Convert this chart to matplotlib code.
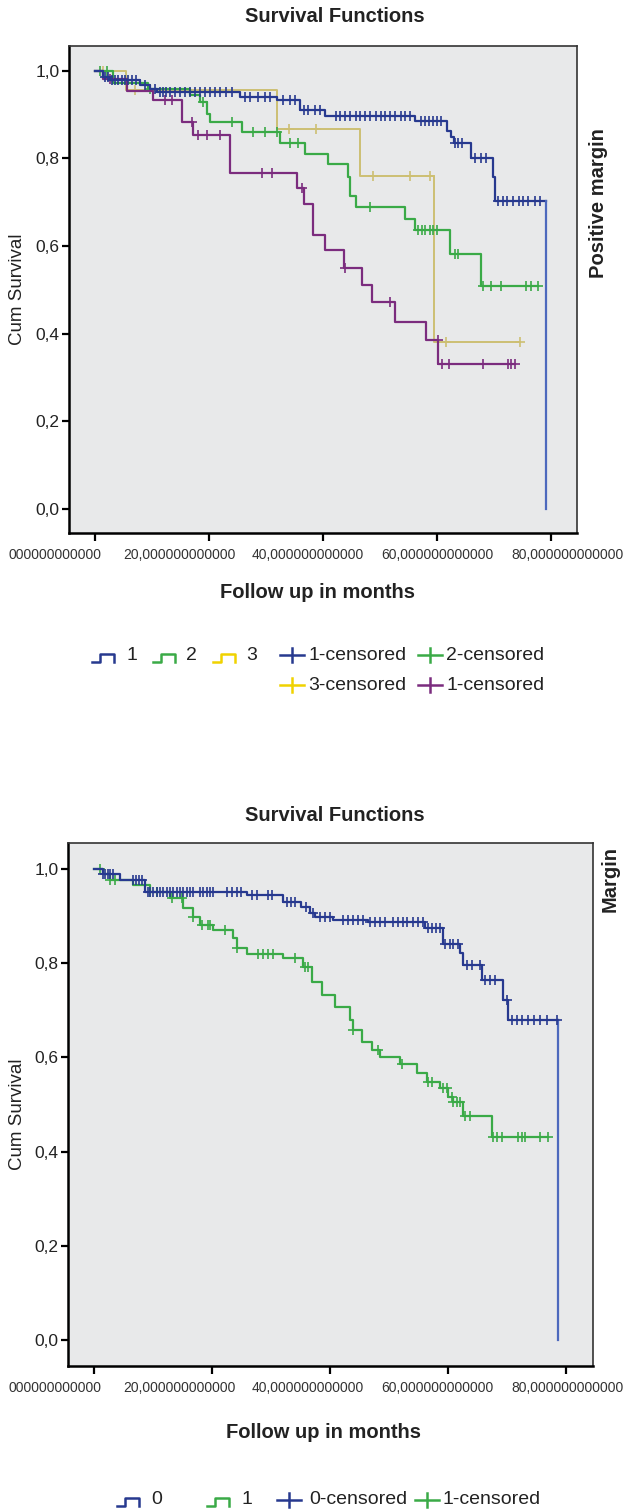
import numpy as np
import matplotlib
matplotlib.use('Agg')
import matplotlib.pyplot as plt
from matplotlib.lines import Line2D
from matplotlib.transforms import blended_transform_factory

plt.rcParams['font.family'] = ['Liberation Sans', 'DejaVu Sans']

# ---------- dados: painel 1 (Positive margin) ----------
p1_blue_t = [0, 1.5, 2.6, 7.9, 9.7, 11.0, 25.5, 32.0, 36.0, 40.4, 56.2, 61.8, 62.5, 63.0, 65.9, 69.7, 70.2, 79.0]
p1_blue_s = [1.0, 0.985, 0.978, 0.967, 0.958, 0.952, 0.94, 0.933, 0.911, 0.896, 0.886, 0.862, 0.848, 0.835, 0.80, 0.758, 0.703, 0.0]
p1_blue_c = [1.8, 2.3, 3.0, 3.6, 4.1, 4.8, 5.3, 5.8, 6.5, 7.2, 8.8, 10.6, 11.5, 12.0, 12.5, 13.2, 14.1,
             15.0, 15.8, 16.7, 17.6, 18.5, 19.4, 20.2, 21.1, 22.0, 23.0, 24.1, 26.4, 27.2, 28.6, 29.9,
             30.8, 33.0, 34.3, 35.1, 36.7, 37.4, 38.6, 39.5, 42.2, 43.0, 43.9, 44.8, 45.7, 46.5, 47.4,
             48.3, 49.2, 50.1, 50.9, 51.8, 52.7, 53.6, 54.4, 55.3, 57.1, 57.9, 58.5, 59.2, 59.9, 60.6,
             63.2, 63.7, 64.4, 66.7, 67.6, 68.5, 70.7, 71.5, 72.2, 73.2, 74.3, 75.0, 76.0, 77.1, 78.1]

p1_green_t = [0, 3.2, 9.4, 16.7, 18.5, 19.7, 20.2, 25.8, 32.5, 36.9, 40.8, 44.3, 44.8, 45.7, 54.4, 56.2, 62.3, 67.6]
p1_green_s = [1.0, 0.971, 0.959, 0.944, 0.929, 0.902, 0.882, 0.859, 0.834, 0.81, 0.788, 0.758, 0.714, 0.689, 0.661, 0.636, 0.582, 0.509]
p1_green_c = [0.9, 2.2, 9.7, 19.0, 24.1, 27.8, 29.9, 32.0, 34.3, 35.7, 48.3, 56.7, 57.4, 57.9, 58.8, 59.3,
              60.0, 63.2, 63.7, 68.0, 69.4, 71.1, 75.5, 76.4, 77.6]

p1_yellow_t = [0, 5.5, 32.0, 46.5, 59.4]
p1_yellow_s = [1.0, 0.955, 0.868, 0.759, 0.38]
p1_yellow_c = [1.5, 7.1, 34.1, 38.7, 48.8, 55.3, 58.8, 61.6, 74.6]

p1_purple_t = [0, 1.5, 5.6, 10.3, 15.3, 17.3, 23.7, 35.5, 36.6, 38.3, 40.4, 43.6, 46.9, 48.6, 52.7, 58.0, 60.2]
p1_purple_s = [1.0, 0.98, 0.953, 0.933, 0.883, 0.853, 0.767, 0.733, 0.695, 0.625, 0.59, 0.549, 0.511, 0.473, 0.427, 0.385, 0.33]
p1_purple_c = [2.7, 12.3, 13.6, 17.1, 18.1, 19.7, 22.0, 29.4, 31.1, 36.4, 43.9, 51.8, 60.1, 60.9, 62.0,
               68.0, 72.4, 72.9, 73.7]

# ---------- dados: painel 2 (Margin) ----------
p2_blue_t = [0, 1.5, 4.4, 8.6, 25.9, 32.0, 35.0, 36.5, 37.5, 40.5, 46.4, 56.0, 59.1, 62.0, 62.5, 65.7, 69.3, 70.1, 78.6]
p2_blue_s = [1.0, 0.99, 0.977, 0.952, 0.945, 0.931, 0.92, 0.906, 0.898, 0.893, 0.888, 0.874, 0.842, 0.821, 0.796, 0.765, 0.722, 0.68, 0.0]
p2_blue_c = [1.5, 1.8, 2.3, 2.7, 3.2, 6.6, 7.1, 7.6, 8.1, 9.1, 9.4, 9.9, 10.6, 11.1, 11.6, 12.3, 12.8,
             13.3, 14.0, 14.5, 15.0, 15.7, 16.2, 16.7, 17.9, 18.4, 19.1, 19.6, 20.1, 22.5, 23.3, 24.2,
             24.9, 26.7, 27.6, 29.4, 30.1, 32.7, 33.4, 34.0, 35.9, 37.0, 38.3, 39.1, 40.0, 42.2, 43.0,
             43.9, 44.7, 45.5, 46.7, 47.6, 48.4, 49.3, 50.6, 51.5, 52.3, 53.1, 54.0, 54.9, 55.7, 56.6,
             57.2, 57.9, 58.6, 59.4, 60.3, 60.9, 61.6, 63.2, 64.0, 65.4, 66.2, 67.1, 67.9, 69.9, 70.8,
             71.6, 72.5, 73.5, 74.5, 75.5, 76.7, 78.4]

p2_green_t = [0, 1.5, 2.6, 6.5, 9.4, 12.8, 15.0, 16.7, 17.9, 20.1, 23.5, 24.2, 25.9, 32.0, 35.4, 36.9, 38.6,
              40.8, 43.3, 43.8, 45.4, 47.1, 48.4, 51.8, 54.7, 56.4, 58.6, 59.9, 60.8, 62.5, 67.4]
p2_green_s = [1.0, 0.99, 0.977, 0.966, 0.952, 0.938, 0.917, 0.899, 0.881, 0.871, 0.854, 0.832, 0.82, 0.811,
              0.793, 0.761, 0.733, 0.708, 0.68, 0.658, 0.633, 0.615, 0.601, 0.587, 0.566, 0.548, 0.534,
              0.516, 0.506, 0.475, 0.431]
p2_green_c = [1.0, 2.6, 3.5, 9.4, 10.6, 13.2, 14.9, 16.7, 18.3, 19.3, 19.6, 22.2, 24.2, 27.8, 28.6, 29.4,
              30.3, 34.0, 35.7, 36.2, 43.9, 48.1, 52.2, 56.6, 57.2, 59.1, 59.8, 60.6, 60.8, 61.5, 62.0,
              62.8, 63.7, 67.6, 68.3, 69.1, 71.8, 72.5, 73.0, 75.5, 77.0]

x_ticks = [0, 20, 40, 60, 80]
x_labels = ['000000000000', '20,000000000000', '40,000000000000', '60,000000000000', '80,000000000000']
x_label_px = [55, 179.5, 308, 437, 567]   # onde os rótulos aparecem (px na figura)
y_ticks = [0.0, 0.2, 0.4, 0.6, 0.8, 1.0]
y_labels = ['0,0', '0,2', '0,4', '0,6', '0,8', '1,0']

# cores
AZUL = '#27398f'
AZUL_CLARO = '#4d69bd'
VERDE = '#3aaa47'
AMARELO = '#cdbf73'
AMARELO_LEG = '#f0d200'
ROXO = '#7b2c7e'
FUNDO = '#e8e9ea'
TXT = '#222222'

W, H = 634, 1512
fig = plt.figure(figsize=(W / 100, H / 100), dpi=100)


def px(x, y):
    return x / W, 1 - y / H


def curva(ax, t, s, cens, cor, lw=1.6, cor_queda=None):
    t = np.array(t, float)
    s = np.array(s, float)
    fim = max(t[-1], max(cens))
    if cor_queda is not None:
        # última queda até zero desenhada à parte
        xs = np.append(t[:-1], t[-1])
        ys = np.append(s[:-1], s[-2])
        ax.plot(xs, ys, drawstyle='steps-post', color=cor, lw=lw)
        ax.plot([t[-1], t[-1]], [s[-2], s[-1]], color=cor_queda, lw=lw)
    else:
        xs = np.append(t, fim)
        ys = np.append(s, s[-1])
        ax.plot(xs, ys, drawstyle='steps-post', color=cor, lw=lw)
    c = np.array(cens, float)
    idx = np.searchsorted(t, c, side='right') - 1
    ax.plot(c, s[idx], ls='none', marker='+', ms=7, mew=1.2, color=cor)


def eixo(rect, xlim, ylim):
    ax = fig.add_axes(rect)
    ax.set_facecolor(FUNDO)
    ax.set_xlim(*xlim)
    ax.set_ylim(*ylim)
    for lado in ['left', 'bottom']:
        ax.spines[lado].set_linewidth(1.8)
        ax.spines[lado].set_color('black')
    for lado in ['top', 'right']:
        ax.spines[lado].set_linewidth(1.2)
        ax.spines[lado].set_color('#333333')
    ax.set_yticks(y_ticks)
    ax.set_yticklabels(y_labels)
    ax.set_xticks(x_ticks)
    ax.set_xticklabels([])
    ax.tick_params(axis='y', length=5, width=1.6, pad=2, labelsize=12.5, labelcolor=TXT)
    ax.tick_params(axis='x', length=6, width=1.6)
    tr = blended_transform_factory(fig.transFigure, ax.transAxes)
    for xp, lab in zip(x_label_px, x_labels):
        ax.text(xp / W, -0.03, lab, transform=tr, ha='center', va='top', fontsize=10, color='#333333')
    return ax


# ---------- painel 1 ----------
ax1 = eixo([69 / W, 1 - 533 / H, 508 / W, 487.3 / H], (-4.5, 84.5), (-0.055, 1.057))
curva(ax1, p1_yellow_t, p1_yellow_s, p1_yellow_c, AMARELO, lw=1.4)
curva(ax1, p1_green_t, p1_green_s, p1_green_c, VERDE)
curva(ax1, p1_purple_t, p1_purple_s, p1_purple_c, ROXO)
curva(ax1, p1_blue_t, p1_blue_s, p1_blue_c, AZUL, cor_queda=AZUL_CLARO)

# ---------- painel 2 ----------
ax2 = eixo([68.3 / W, 1 - 1365.7 / H, 524.4 / W, 522.4 / H], (-4.4, 84.5), (-0.055, 1.055))
curva(ax2, p2_green_t, p2_green_s, p2_green_c, VERDE)
curva(ax2, p2_blue_t, p2_blue_s, p2_blue_c, AZUL, cor_queda=AZUL_CLARO)


# ---------- textos ----------
def texto(x, y, s, **kw):
    fig.text(*px(x, y), s, **kw)


tit_kw = dict(ha='center', va='center', fontsize=14.5, fontweight='bold', color=TXT)
texto(335, 17, 'Survival Functions', **tit_kw)
texto(317, 592, 'Follow up in months', **tit_kw)
texto(18, 289, 'Cum Survival', ha='center', va='center', rotation=90, fontsize=13.5, color=TXT)
texto(598, 203, 'Positive margin', rotation=90, **tit_kw)

texto(335, 815, 'Survival Functions', **tit_kw)
texto(324, 1432, 'Follow up in months', **tit_kw)
texto(18, 1114, 'Cum Survival', ha='center', va='center', rotation=90, fontsize=13.5, color=TXT)
texto(610, 879, 'Margin', rotation=90, **tit_kw)


# ---------- legendas ----------
def degrau(x0, y0, cor):
    xs = [x0, x0 + 8, x0 + 8, x0 + 22, x0 + 22]
    ys = [y0 + 4, y0 + 4, y0 - 4, y0 - 4, y0 + 4]
    fx = [x / W for x in xs]
    fy = [1 - y / H for y in ys]
    fig.add_artist(Line2D(fx, fy, color=cor, lw=1.8, transform=fig.transFigure))


def cruz(xc, yc, cor):
    fig.add_artist(Line2D([(xc - 12) / W, (xc + 12) / W], [1 - yc / H] * 2, color=cor, lw=1.8,
                          transform=fig.transFigure))
    fig.add_artist(Line2D([xc / W] * 2, [1 - (yc - 7) / H, 1 - (yc + 7) / H], color=cor, lw=1.8,
                          transform=fig.transFigure))


leg_kw = dict(ha='left', va='center', fontsize=14, color=TXT)

degrau(92, 658, AZUL); texto(126, 656, '1', **leg_kw)
degrau(153, 658, VERDE); texto(186, 656, '2', **leg_kw)
degrau(213, 658, AMARELO_LEG); texto(246, 656, '3', **leg_kw)
cruz(292, 655, AZUL); texto(308, 656, '1-censored', **leg_kw)
cruz(430, 655, VERDE); texto(446, 656, '2-censored', **leg_kw)
cruz(292, 685, AMARELO_LEG); texto(308, 686, '3-censored', **leg_kw)
cruz(430, 685, ROXO); texto(446, 686, '1-censored', **leg_kw)

degrau(117, 1502, AZUL); texto(151, 1500, '0', **leg_kw)
degrau(207, 1502, VERDE); texto(241, 1500, '1', **leg_kw)
cruz(289, 1500, AZUL); texto(309, 1500, '0-censored', **leg_kw)
cruz(427, 1500, VERDE); texto(443, 1500, '1-censored', **leg_kw)

fig.savefig('out.png', dpi=100)
